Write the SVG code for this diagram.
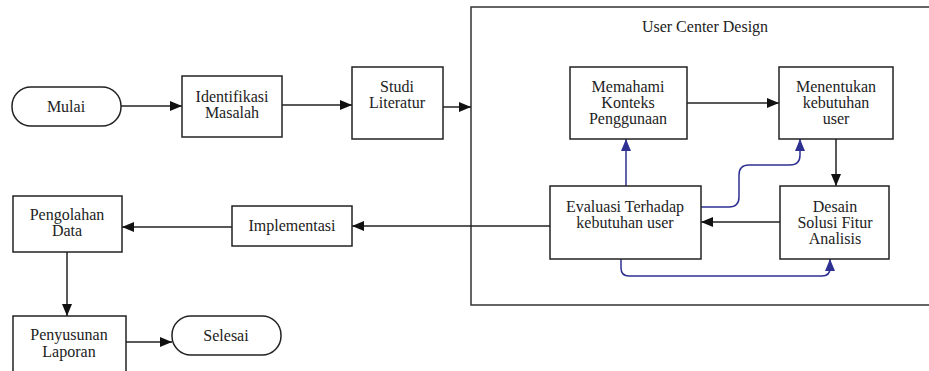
<svg xmlns="http://www.w3.org/2000/svg" width="929" height="371" viewBox="0 0 929 371" font-family="Liberation Serif, Times New Roman, serif">
<defs>
<marker id="ah" viewBox="0 0 12 10" refX="12" refY="5" markerWidth="12" markerHeight="10" markerUnits="userSpaceOnUse" orient="auto"><path d="M0,0 L12,5 L0,10 Z" fill="#111"/></marker>
<marker id="ahb" viewBox="0 0 12 10" refX="12" refY="5" markerWidth="12" markerHeight="10" markerUnits="userSpaceOnUse" orient="auto"><path d="M0,0 L12,5 L0,10 Z" fill="#2e3192"/></marker>
</defs>
<style>
.box{fill:#fff;stroke:#222;stroke-width:1.5}
.t{font-size:16px;fill:#222;text-anchor:middle}
.c{fill:none;stroke:#222;stroke-width:1.5}
.b{fill:none;stroke:#2e3192;stroke-width:1.5}
</style>
<rect width="929" height="371" fill="#fff"/>
<g id="container">
<path d="M935,7 H471 V305 H935" fill="none" stroke="#333" stroke-width="1.5"/>
<text class="t" x="705" y="32">User Center Design</text>
</g>
<g id="connectors">
<line class="c" x1="121" y1="106" x2="182" y2="106" marker-end="url(#ah)"/>
<line class="c" x1="282" y1="105" x2="352" y2="105" marker-end="url(#ah)"/>
<line class="c" x1="443" y1="107" x2="471" y2="107" marker-end="url(#ah)"/>
<line class="c" x1="687" y1="103" x2="779" y2="103" marker-end="url(#ah)"/>
<line class="c" x1="836" y1="139" x2="836" y2="186" marker-end="url(#ah)"/>
<line class="c" x1="780" y1="222" x2="701" y2="222" marker-end="url(#ah)"/>
<line class="c" x1="550" y1="226" x2="352" y2="226" marker-end="url(#ah)"/>
<line class="c" x1="232" y1="227" x2="122" y2="227" marker-end="url(#ah)"/>
<line class="c" x1="67" y1="252" x2="67" y2="316" marker-end="url(#ah)"/>
<line class="c" x1="126" y1="342" x2="172" y2="342" marker-end="url(#ah)"/>
<line class="b" x1="626" y1="186" x2="626" y2="139" marker-end="url(#ahb)"/>
<path class="b" d="M701,207 H729 Q739,207 739,197 V175 Q739,165 749,165 H790 Q800,165 800,155 V139" marker-end="url(#ahb)"/>
<path class="b" d="M621,259 V268 Q621,276 629,276 H822 Q830,276 830,268 V259" marker-end="url(#ahb)"/>
</g>
<g id="mulai"><rect class="box" x="12" y="87" width="109" height="39" rx="19" ry="19"/><text class="t" x="66" y="112">Mulai</text></g>
<g id="identifikasi"><rect class="box" x="182" y="76" width="100" height="61"/><text class="t" x="232" y="102">Identifikasi</text><text class="t" x="232" y="118">Masalah</text></g>
<g id="studi"><rect class="box" x="352" y="67" width="91" height="72"/><text class="t" x="397" y="92">Studi</text><text class="t" x="397" y="108">Literatur</text></g>
<g id="memahami"><rect class="box" x="570" y="67" width="117" height="72"/><text class="t" x="628" y="92">Memahami</text><text class="t" x="628" y="108">Konteks</text><text class="t" x="628" y="124">Penggunaan</text></g>
<g id="menentukan"><rect class="box" x="779" y="67" width="114" height="72"/><text class="t" x="836" y="92">Menentukan</text><text class="t" x="836" y="108">kebutuhan</text><text class="t" x="836" y="124">user</text></g>
<g id="evaluasi"><rect class="box" x="550" y="186" width="151" height="73"/><text class="t" x="625" y="212">Evaluasi Terhadap</text><text class="t" x="625" y="228">kebutuhan user</text></g>
<g id="desain"><rect class="box" x="780" y="186" width="109" height="73"/><text class="t" x="835" y="212">Desain</text><text class="t" x="835" y="228">Solusi Fitur</text><text class="t" x="835" y="244">Analisis</text></g>
<g id="implementasi"><rect class="box" x="232" y="206" width="120" height="40"/><text class="t" x="292" y="231">Implementasi</text></g>
<g id="pengolahan"><rect class="box" x="13" y="196" width="109" height="56"/><text class="t" x="67" y="220">Pengolahan</text><text class="t" x="67" y="236">Data</text></g>
<g id="penyusunan"><rect class="box" x="13" y="316" width="113" height="70"/><text class="t" x="69" y="340">Penyusunan</text><text class="t" x="69" y="357">Laporan</text></g>
<g id="selesai"><rect class="box" x="172" y="316" width="109" height="39" rx="19" ry="19"/><text class="t" x="226" y="341">Selesai</text></g>
</svg>
